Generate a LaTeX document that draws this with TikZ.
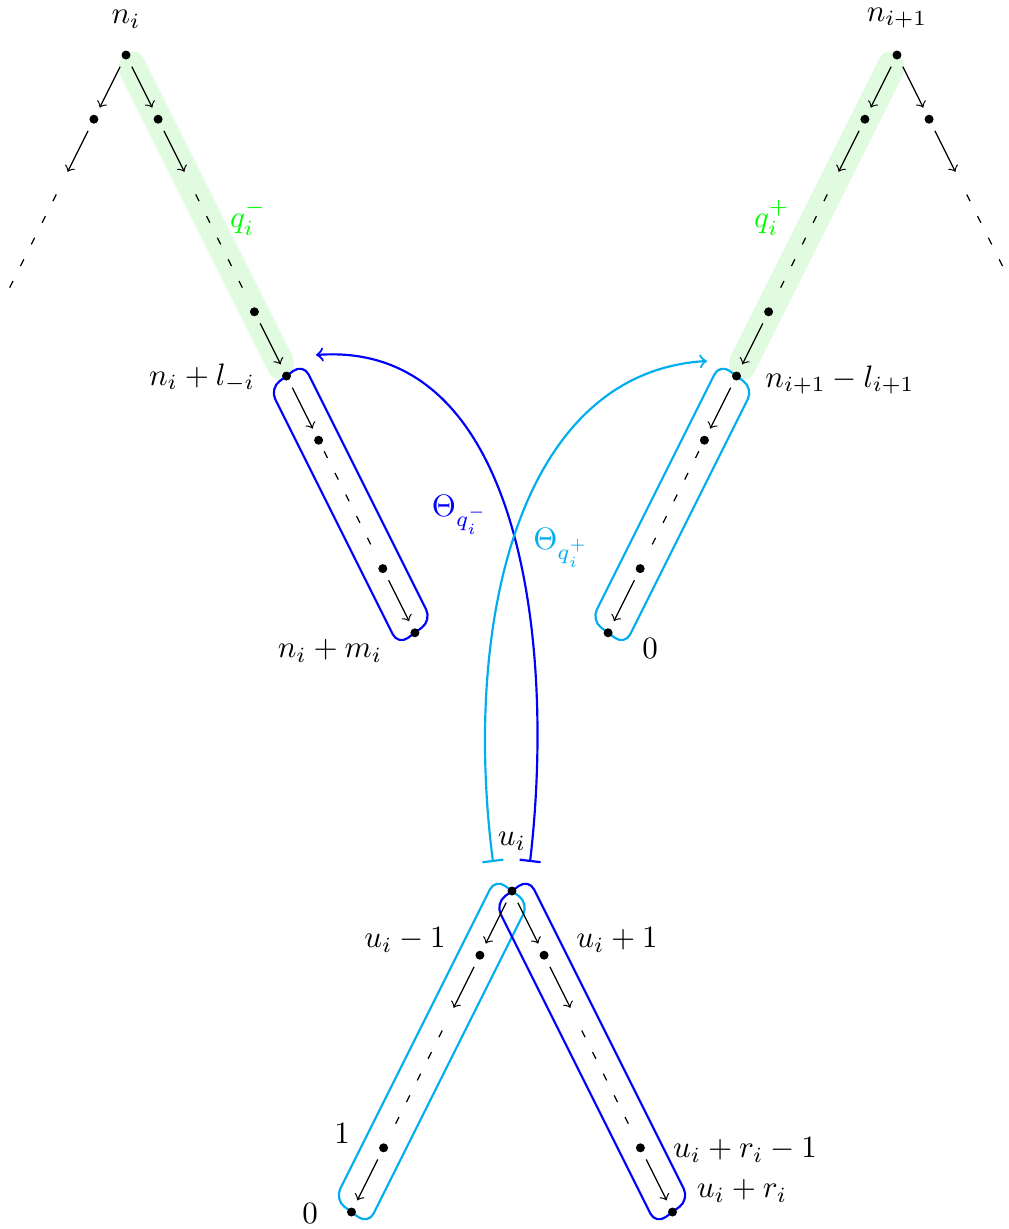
\documentclass[tikz,border=0pt]{standalone}
\usetikzlibrary{calc,backgrounds}
\definecolor{bandgreen}{RGB}{225,251,225}
\definecolor{skyc}{RGB}{0,174,239}
\definecolor{qgreen}{RGB}{0,255,0}
\begin{document}
\begin{tikzpicture}[x=0.32258pt, y=-0.32258pt,
  dot/.style={circle, fill=black, inner sep=0pt, outer sep=0pt, minimum size=2.9pt},
  arr/.style={->, shorten <=4.2pt, shorten >=4.2pt},
  dsh/.style={dash pattern=on 2.4pt off 5.4pt, shorten <=4pt, shorten >=4pt},
  lab/.style={inner sep=0pt},
  gband/.style={fill=bandgreen, rounded corners=4pt},
  bbox/.style={draw=blue, line width=0.7pt, rounded corners=3.9pt},
  cbox/.style={draw=skyc, line width=0.7pt, rounded corners=3.9pt},
  curv/.style={line width=0.7pt, |->}
]
\useasboundingbox (0,0) rectangle (1009,1229);

% top-left tree
\node[dot] (r1) at (126,55) {};
\node[dot] (l1) at (93.9,119.2) {};
\coordinate (l2) at (61.8,183.4);
\coordinate (l4) at (-2.4,311.8);
\node[dot] (a1) at (158.1,119.2) {};
\coordinate (a2) at (190.2,183.4);
\node[dot] (a4) at (254.4,311.8) {};
\node[dot] (m0) at (286.5,376) {};
\node[dot] (m1) at (318.6,440.2) {};
\node[dot] (m3) at (382.8,568.6) {};
\node[dot] (m4) at (414.9,632.8) {};

% top-right tree
\node[dot] (r2) at (897,55) {};
\node[dot] (b1) at (864.9,119.2) {};
\coordinate (b2) at (832.8,183.4);
\node[dot] (b4) at (768.6,311.8) {};
\node[dot] (p0) at (736.5,376) {};
\node[dot] (p1) at (704.4,440.2) {};
\node[dot] (p3) at (640.2,568.6) {};
\node[dot] (p4) at (608.1,632.8) {};
\node[dot] (c1) at (929.1,119.2) {};
\coordinate (c2) at (961.2,183.4);
\coordinate (c4) at (1025.4,311.8);

% bottom
\node[dot] (u) at (512,891) {};
\node[dot] (d1) at (479.9,955.2) {};
\coordinate (d2) at (447.8,1019.4);
\node[dot] (d4) at (383.6,1147.8) {};
\node[dot] (d5) at (351.5,1212) {};
\node[dot] (e1) at (544.1,955.2) {};
\coordinate (e2) at (576.2,1019.4);
\node[dot] (e4) at (640.4,1147.8) {};
\node[dot] (e5) at (672.5,1212) {};

\begin{scope}[on background layer]
  % green paths q_i^- and q_i^+
  \begin{scope}[shift={(r1.center)}, rotate=-63.435]
    \path[gband] (-0.8pt,4.6pt) -- (114.97pt,4.6pt) -- (116.57pt,-4.6pt) -- (0.8pt,-4.6pt) -- cycle;
  \end{scope}
  \begin{scope}[shift={(r2.center)}, rotate=-116.565]
    \path[gband] (0.8pt,4.6pt) -- (116.57pt,4.6pt) -- (114.97pt,-4.6pt) -- (-0.8pt,-4.6pt) -- cycle;
  \end{scope}
  % boxes
  \begin{scope}[shift={(m0.center)}, rotate=-63.435]
    \draw[bbox, fill=white] (-1.16pt,6.6pt) -- (91.45pt,6.6pt) -- (93.77pt,-6.6pt) -- (1.16pt,-6.6pt) -- cycle;
  \end{scope}
  \begin{scope}[shift={(p0.center)}, rotate=-116.565]
    \draw[cbox, fill=white] (1.16pt,6.6pt) -- (93.77pt,6.6pt) -- (91.45pt,-6.6pt) -- (-1.16pt,-6.6pt) -- cycle;
  \end{scope}
  \begin{scope}[shift={(u.center)}, rotate=-116.565]
    \draw[cbox] (1.16pt,6.6pt) -- (116.93pt,6.6pt) -- (114.61pt,-6.6pt) -- (-1.16pt,-6.6pt) -- cycle;
  \end{scope}
  \begin{scope}[shift={(u.center)}, rotate=-63.435]
    \draw[bbox] (-1.16pt,6.6pt) -- (114.61pt,6.6pt) -- (116.93pt,-6.6pt) -- (1.16pt,-6.6pt) -- cycle;
  \end{scope}
\end{scope}

% edges top-left
\draw[arr] (r1.center) -- (l1.center);
\draw[arr] (l1.center) -- (l2);
\draw[dsh] (l2) -- (l4);
\draw[arr] (r1.center) -- (a1.center);
\draw[arr] (a1.center) -- (a2);
\draw[dsh] (a2) -- (a4.center);
\draw[arr] (a4.center) -- (m0.center);
\draw[arr] (m0.center) -- (m1.center);
\draw[dsh] (m1.center) -- (m3.center);
\draw[arr] (m3.center) -- (m4.center);
% edges top-right
\draw[arr] (r2.center) -- (b1.center);
\draw[arr] (b1.center) -- (b2);
\draw[dsh] (b2) -- (b4.center);
\draw[arr] (b4.center) -- (p0.center);
\draw[arr] (p0.center) -- (p1.center);
\draw[dsh] (p1.center) -- (p3.center);
\draw[arr] (p3.center) -- (p4.center);
\draw[arr] (r2.center) -- (c1.center);
\draw[arr] (c1.center) -- (c2);
\draw[dsh] (c2) -- (c4);
% edges bottom
\draw[arr] (u.center) -- (d1.center);
\draw[arr] (d1.center) -- (d2);
\draw[dsh] (d2) -- (d4.center);
\draw[arr] (d4.center) -- (d5.center);
\draw[arr] (u.center) -- (e1.center);
\draw[arr] (e1.center) -- (e2);
\draw[dsh] (e2) -- (e4.center);
\draw[arr] (e4.center) -- (e5.center);

% Theta maps
\coordinate (tm0) at (530,862);
\coordinate (tm1) at (316,355);
\draw[curv, blue] (tm0) .. controls (556,640) and (520,340) .. (tm1);
\coordinate (tp0) at (493,862);
\coordinate (tp1) at (707,361);
\draw[curv, skyc] (tp0) .. controls (462,620) and (520,372) .. (tp1);

% labels
\node[lab] (ln1) at (126,19) {$n_i$};
\node[lab] (ln2) at (897,18) {$n_{i+1}$};
\node[lab, text=qgreen] (lq1) at (248,218) {$q_i^-$};
\node[lab, text=qgreen] (lq2) at (772,218) {$q_i^+$};
\node[lab] (lm0) at (202,378) {$n_i+l_{-i}$};
\node[lab] (lp0) at (840,380) {$n_{i+1}-l_{i+1}$};
\node[lab] (lm4) at (330,651) {$n_i+m_i$};
\node[lab] (lp4) at (650,648) {$0$};
\node[lab, text=blue] (tlm) at (460,515) {$\Theta_{q_i^-}$};
\node[lab, text=skyc] (tlp) at (561,548) {$\Theta_{q_i^+}$};
\node[lab] (lu) at (512,841) {$u_i$};
\node[lab] (ld1) at (405,940) {$u_i-1$};
\node[lab] (le1) at (617,940) {$u_i+1$};
\node[lab] (ld4) at (342,1133) {$1$};
\node[lab] (ld5) at (310,1213) {$0$};
\node[lab] (le4) at (745,1150) {$u_i+r_i-1$};
\node[lab] (le5) at (742,1191) {$u_i+r_i$};
\end{tikzpicture}
\end{document}
